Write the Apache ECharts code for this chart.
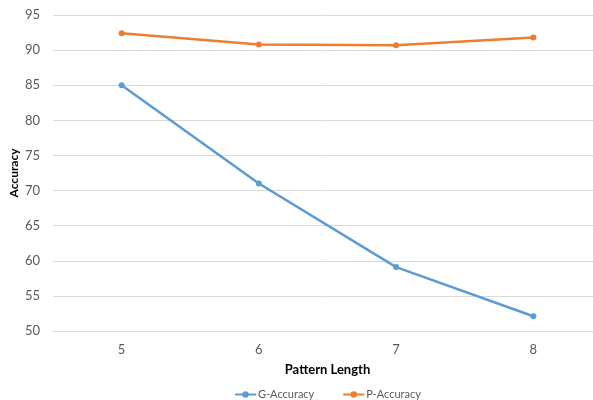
<!DOCTYPE html>
<html>
<head>
<meta charset="utf-8">
<script src="https://cdn.jsdelivr.net/npm/echarts@6/dist/echarts.min.js"></script>
<style>
  html, body { margin: 0; padding: 0; background: #fff; }
  #chart { width: 593px; height: 400px; }
</style>
</head>
<body>
<div id="chart"></div>
<script>
// Accuracy by pattern length
const patternLengths = ['5', '6', '7', '8'];
const gAccuracy = [85.0, 71.0, 59.1, 52.1];
const pAccuracy = [92.4, 90.8, 90.7, 91.8];

const FONT = 'Lato';
const TEXT = '#595959';

const chart = echarts.init(document.getElementById('chart'));
chart.setOption({
  animation: false,
  backgroundColor: '#ffffff',
  textStyle: { fontFamily: FONT },
  grid: {
    left: 53, top: 15, width: 549, height: 316,
    containLabel: false,
    outerBoundsMode: 'none'
  },
  xAxis: {
    type: 'category',
    data: patternLengths,
    boundaryGap: true,
    name: 'Pattern Length',
    nameLocation: 'middle',
    nameGap: 32,
    nameTextStyle: { color: '#000', fontWeight: 'bold', fontSize: 13, fontFamily: FONT },
    axisLine: { show: true, lineStyle: { color: '#d9d9d9', width: 1 } },
    axisTick: { show: false },
    axisLabel: { color: TEXT, fontSize: 13, margin: 12 }
  },
  yAxis: {
    type: 'value',
    min: 50,
    max: 95,
    interval: 5,
    name: 'Accuracy',
    nameLocation: 'middle',
    nameGap: 33,
    nameMoveOverlap: false,
    nameTextStyle: { color: '#000', fontWeight: 'bold', fontSize: 12, fontFamily: FONT },
    axisLine: { show: false },
    axisTick: { show: false },
    axisLabel: { color: TEXT, fontSize: 13, margin: 13 },
    splitLine: { lineStyle: { color: '#d9d9d9', width: 1 } }
  },
  legend: {
    top: 384,
    left: 229,
    itemGap: 28,
    itemWidth: 21,
    itemHeight: 8,
    textStyle: { color: TEXT, fontSize: 11, fontFamily: FONT, padding: [0, 0, 0, -3] },
    data: ['G-Accuracy', 'P-Accuracy']
  },
  series: [
    {
      name: 'G-Accuracy',
      type: 'line',
      data: gAccuracy,
      symbol: 'circle',
      symbolSize: 6,
      itemStyle: { color: '#5b9bd5' },
      lineStyle: { color: '#5b9bd5', width: 2.5 }
    },
    {
      name: 'P-Accuracy',
      type: 'line',
      data: pAccuracy,
      symbol: 'circle',
      symbolSize: 6,
      itemStyle: { color: '#ed7d31' },
      lineStyle: { color: '#ed7d31', width: 2.5 }
    }
  ]
});
</script>
</body>
</html>
